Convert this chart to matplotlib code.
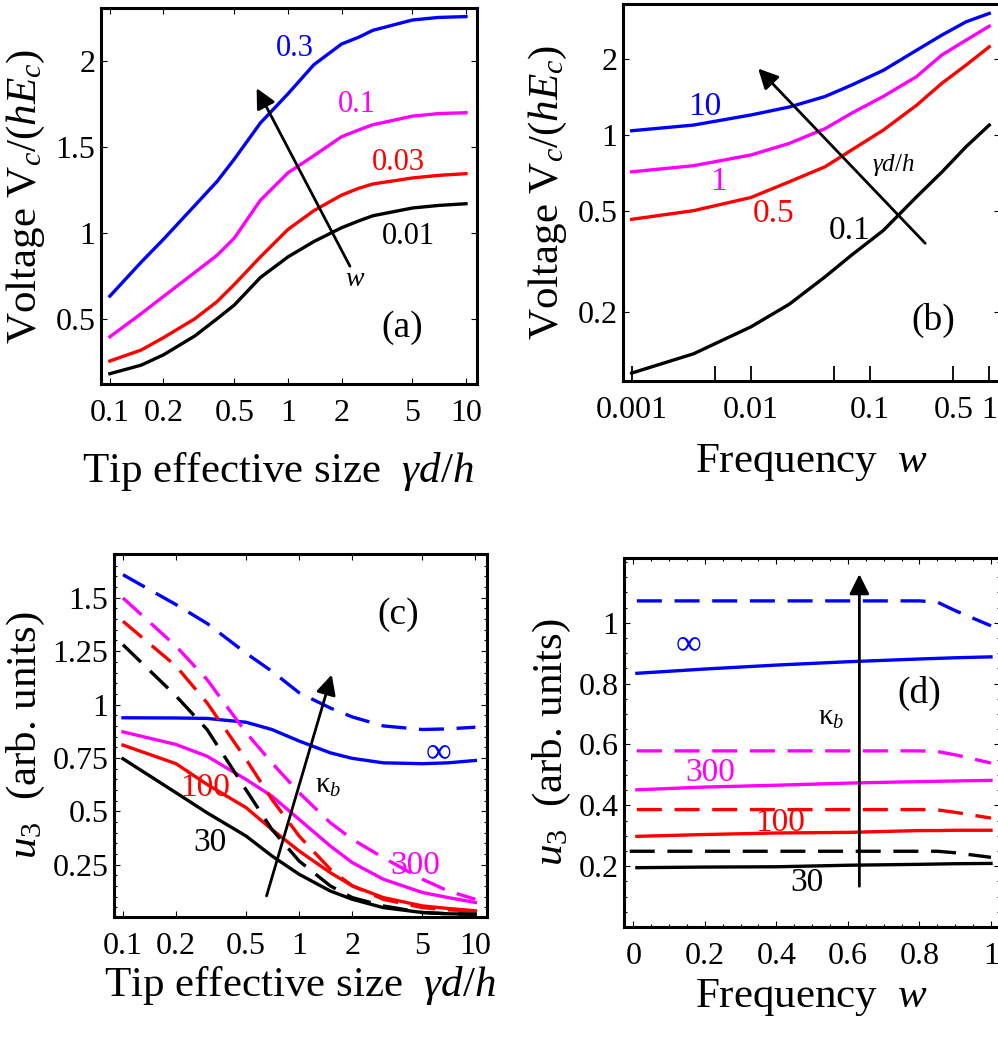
import numpy as np
import matplotlib
matplotlib.use('Agg')
import matplotlib.pyplot as plt
import matplotlib.ticker as tkr

plt.rcParams['font.family'] = ['Liberation Serif', 'DejaVu Serif']
plt.rcParams['mathtext.fontset'] = 'custom'
plt.rcParams['mathtext.rm'] = 'Liberation Serif'
plt.rcParams['mathtext.it'] = 'Liberation Serif:italic'

BLUE, MAG, RED, BLK = '#0000ff', '#ff00ff', '#ff0000', '#000000'

# (a) voltage vs tip size, curves for w = 0.01, 0.03, 0.1, 0.3
a_x = [0.1, 0.15, 0.2, 0.3, 0.4, 0.5, 0.7, 1, 1.4, 2, 2.5, 3, 5, 7, 10]
a_w03 = [0.632, 0.83, 0.963, 1.16, 1.30, 1.43, 1.64, 1.81, 1.98, 2.10, 2.14, 2.18, 2.24, 2.255, 2.26]
a_w01 = [0.395, 0.53, 0.63, 0.77, 0.87, 0.97, 1.19, 1.35, 1.45, 1.56, 1.60, 1.63, 1.68, 1.695, 1.70]
a_w003 = [0.254, 0.318, 0.39, 0.50, 0.60, 0.70, 0.86, 1.02, 1.13, 1.22, 1.26, 1.285, 1.32, 1.335, 1.345]
a_w001 = [0.18, 0.23, 0.29, 0.40, 0.50, 0.58, 0.74, 0.86, 0.95, 1.03, 1.07, 1.10, 1.145, 1.16, 1.17]

# (b) voltage vs frequency, curves for gamma d/h = 0.1, 0.5, 1, 10
b_x = [0.001, 0.0033, 0.01, 0.021, 0.042, 0.07, 0.129, 0.245, 0.4, 0.64, 1.0]
b_g10 = [1.04, 1.095, 1.2, 1.29, 1.42, 1.575, 1.8, 2.16, 2.48, 2.8, 3.02]
b_g1 = [0.716, 0.757, 0.834, 0.927, 1.06, 1.22, 1.42, 1.70, 2.07, 2.37, 2.69]
b_g05 = [0.465, 0.503, 0.567, 0.654, 0.75, 0.873, 1.046, 1.31, 1.6, 1.89, 2.23]
b_g01 = [0.115, 0.137, 0.175, 0.215, 0.276, 0.336, 0.42, 0.57, 0.714, 0.9, 1.095]

# (c) u3 vs tip size, solid and dashed for kappa_b = 30, 100, 300, inf
c_x = [0.1, 0.2, 0.3, 0.5, 0.7, 1, 1.5, 2, 3, 5, 7, 10]
c_inf_d = [1.608, 1.468, 1.38, 1.24, 1.156, 1.055, 0.984, 0.942, 0.90, 0.883, 0.886, 0.894]
c_inf_s = [0.938, 0.937, 0.935, 0.917, 0.883, 0.829, 0.774, 0.748, 0.727, 0.723, 0.727, 0.738]
c_300_d = [1.499, 1.273, 1.117, 0.868, 0.727, 0.587, 0.447, 0.369, 0.283, 0.182, 0.127, 0.088]
c_300_s = [0.872, 0.813, 0.758, 0.649, 0.571, 0.462, 0.338, 0.26, 0.182, 0.12, 0.096, 0.073]
c_100_d = [1.39, 1.18, 1.008, 0.743, 0.556, 0.384, 0.229, 0.151, 0.088, 0.049, 0.038, 0.034]
c_100_s = [0.81, 0.723, 0.626, 0.517, 0.415, 0.314, 0.213, 0.151, 0.096, 0.057, 0.045, 0.034]
c_30_d = [1.28, 1.04, 0.883, 0.60, 0.415, 0.267, 0.151, 0.096, 0.057, 0.026, 0.02, 0.018]
c_30_s = [0.746, 0.587, 0.493, 0.384, 0.291, 0.205, 0.127, 0.088, 0.049, 0.026, 0.02, 0.018]

# (d) u3 vs frequency
d_x = [0.01, 0.2, 0.4, 0.6, 0.8, 0.85, 0.9, 1.0]
d_inf_d = [1.072, 1.072, 1.072, 1.072, 1.072, 1.068, 1.04, 0.99]
d_inf_s = [0.834, 0.848, 0.861, 0.872, 0.881, 0.883, 0.885, 0.888]
d_300_d = [0.579, 0.579, 0.579, 0.579, 0.579, 0.577, 0.566, 0.539]
d_300_s = [0.451, 0.46, 0.466, 0.473, 0.478, 0.479, 0.48, 0.482]
d_100_d = [0.386, 0.386, 0.386, 0.386, 0.386, 0.385, 0.377, 0.358]
d_100_s = [0.298, 0.304, 0.309, 0.311, 0.317, 0.317, 0.318, 0.318]
d_30_d_x = [-0.01, 0.2, 0.4, 0.6, 0.8, 0.85, 0.9, 1.0]
d_30_d = [0.249, 0.249, 0.249, 0.249, 0.249, 0.249, 0.244, 0.229]
d_30_s = [0.195, 0.197, 0.198, 0.203, 0.206, 0.207, 0.208, 0.209]

W, H = 998, 1037
fig = plt.figure(figsize=(W / 100, H / 100), dpi=100)


def box(l, r, t, b):
    return fig.add_axes([l / W, 1 - b / H, (r - l) / W, (b - t) / H])


def style(ax):
    for s in ax.spines.values():
        s.set_linewidth(2.2)
    ax.tick_params(which='both', direction='in', top=True, right=True,
                   labelsize=23, width=0.8)
    ax.tick_params(which='major', length=4)
    ax.tick_params(which='minor', length=2.5)


LW = 2.4
DASH = (7.5, 3.8)
LAB = 22
arrow = dict(arrowstyle='-|>', lw=2, color='k', mutation_scale=30, shrinkA=0, shrinkB=0)

# ---------- (a)
ax = box(101, 477, 8, 384)
style(ax)
ax.set_xscale('log')
ax.plot(a_x, a_w03, color=BLUE, lw=LW)
ax.plot(a_x, a_w01, color=MAG, lw=LW)
ax.plot(a_x, a_w003, color=RED, lw=LW)
ax.plot(a_x, a_w001, color=BLK, lw=LW)
ax.set_xlim(10 ** -1.05, 10 ** 1.062)
ax.set_ylim(0.12, 2.31)
ax.xaxis.set_major_locator(tkr.FixedLocator([0.1, 0.2, 0.5, 1, 2, 5, 10]))
ax.xaxis.set_major_formatter(tkr.FixedFormatter(['0.1', '0.2', '0.5', '1', '2', '5', '10']))
ax.xaxis.set_minor_locator(tkr.NullLocator())
ax.set_yticks([0.5, 1, 1.5, 2], ['0.5', '1', '1.5', '2'])
ax.tick_params(axis='x', pad=11)
ax.tick_params(axis='y', pad=4)
ax.set_xlabel(r'Tip effective size  $\gamma d/h$', fontsize=31)
ax.xaxis.set_label_coords(0.47, -0.175)
ax.set_ylabel(r'Voltage V$_c/(hE_c)$', fontsize=31, labelpad=6)
ax.text(1.09, 2.075, '0.3', color=BLUE, fontsize=LAB, ha='center', va='center')
ax.text(2.43, 1.746, '0.1', color=MAG, fontsize=LAB, ha='center', va='center')
ax.text(4.17, 1.41, '0.03', color=RED, fontsize=LAB, ha='center', va='center')
ax.text(4.74, 0.98, '0.01', color=BLK, fontsize=LAB, ha='center', va='center')
ax.text(2.38, 0.73, '$w$', fontsize=20, ha='center', va='center')
ax.text(4.4, 0.45, '(a)', fontsize=27, ha='center', va='center')
ax.annotate('', xy=(0.667, 1.843), xytext=(2.23, 0.806), arrowprops=arrow)

# ---------- (b)
ax = box(623, 1000, 4, 381)
style(ax)
ax.set_xscale('log')
ax.set_yscale('log')
ax.plot(b_x, b_g10, color=BLUE, lw=LW)
ax.plot(b_x, b_g1, color=MAG, lw=LW)
ax.plot(b_x, b_g05, color=RED, lw=LW)
ax.plot(b_x, b_g01, color=BLK, lw=LW)
ax.set_xlim(10 ** -3.073, 10 ** 0.09)
ax.set_ylim(0.107, 3.29)
ax.xaxis.set_major_locator(tkr.FixedLocator([0.001, 0.005, 0.01, 0.05, 0.1, 0.5, 1]))
ax.xaxis.set_major_formatter(tkr.FixedFormatter(['0.001', '', '0.01', '', '0.1', '0.5', '1']))
ax.xaxis.set_minor_locator(tkr.LogLocator(subs=(2, 3, 4, 6, 7, 8, 9)))
ax.xaxis.set_minor_formatter(tkr.NullFormatter())
ax.tick_params(axis='x', which='major', length=11, width=1.3, top=False, pad=11)
ax.yaxis.set_major_locator(tkr.FixedLocator([0.2, 0.5, 1, 2]))
ax.yaxis.set_major_formatter(tkr.FixedFormatter(['0.2', '0.5', '1', '2']))
ax.yaxis.set_minor_locator(tkr.NullLocator())
ax.tick_params(axis='y', pad=4)
ax.set_xlabel(r'Frequency  $w$', fontsize=31, labelpad=12)
ax.set_ylabel(r'Voltage V$_c/(hE_c)$', fontsize=31, labelpad=6)
ax.text(0.0041, 1.29, '10', color=BLUE, fontsize=24, ha='center', va='center')
ax.text(0.0053, 0.655, '1', color=MAG, fontsize=24, ha='center', va='center')
ax.text(0.0155, 0.49, '0.5', color=RED, fontsize=24, ha='center', va='center')
ax.text(0.0676, 0.42, '0.1', color=BLK, fontsize=24, ha='center', va='center')
ax.text(0.157, 0.76, r'$\gamma d/h$', fontsize=18, ha='center', va='center')
ax.text(0.34, 0.186, '(b)', fontsize=27, ha='center', va='center')
ax.annotate('', xy=(0.0115, 1.83), xytext=(0.29, 0.374), arrowprops=arrow)

# ---------- (c)
ax = box(114, 487, 554, 917)
style(ax)
ax.set_xscale('log')
ax.plot(c_x, c_inf_d, color=BLUE, lw=LW, dashes=DASH)
ax.plot(c_x, c_inf_s, color=BLUE, lw=LW)
ax.plot(c_x, c_300_d, color=MAG, lw=LW, dashes=DASH)
ax.plot(c_x, c_300_s, color=MAG, lw=LW)
ax.plot(c_x, c_100_d, color=RED, lw=LW, dashes=DASH)
ax.plot(c_x, c_100_s, color=RED, lw=LW)
ax.plot(c_x, c_30_d, color=BLK, lw=LW, dashes=DASH)
ax.plot(c_x, c_30_s, color=BLK, lw=LW)
ax.set_xlim(10 ** -1.051, 10 ** 1.066)
ax.set_ylim(0.005, 1.705)
ax.xaxis.set_major_locator(tkr.FixedLocator([0.1, 0.2, 0.5, 1, 2, 5, 10]))
ax.xaxis.set_major_formatter(tkr.FixedFormatter(['0.1', '0.2', '0.5', '1', '2', '5', '10']))
ax.xaxis.set_minor_locator(tkr.NullLocator())
ax.set_yticks([0.25, 0.5, 0.75, 1, 1.25, 1.5], ['0.25', '0.5', '0.75', '1', '1.25', '1.5'])
ax.yaxis.set_minor_locator(tkr.MultipleLocator(0.05))
ax.tick_params(axis='x', pad=11)
ax.tick_params(axis='y', pad=4)
ax.set_xlabel(r'Tip effective size  $\gamma d/h$', fontsize=31, labelpad=2)
ax.set_ylabel(r'$u_3$  (arb. units)', fontsize=31, labelpad=4)
ax.text(3.66, 1.42, '(c)', fontsize=27, ha='center', va='center')
ax.text(6.17, 0.774, '∞', color=BLUE, fontsize=26, ha='center', va='center')
ax.text(1.47, 0.618, 'κ$_b$', fontsize=21, ha='center', va='center')
ax.text(0.291, 0.61, '100', color=RED, fontsize=24, ha='center', va='center')
ax.text(0.311, 0.353, '30', color=BLK, fontsize=24, ha='center', va='center')
ax.text(4.56, 0.244, '300', color=MAG, fontsize=24, ha='center', va='center')
ax.annotate('', xy=(1.53, 1.14), xytext=(0.653, 0.104), arrowprops=arrow)

# ---------- (d)
ax = box(624, 1000, 558, 927)
style(ax)
ax.plot(d_x, d_inf_d, color=BLUE, lw=LW, dashes=DASH)
ax.plot(d_x, d_inf_s, color=BLUE, lw=LW)
ax.plot(d_x, d_300_d, color=MAG, lw=LW, dashes=DASH)
ax.plot(d_x, d_300_s, color=MAG, lw=LW)
ax.plot(d_x, d_100_d, color=RED, lw=LW, dashes=DASH)
ax.plot(d_x, d_100_s, color=RED, lw=LW)
ax.plot(d_30_d_x, d_30_d, color=BLK, lw=LW, dashes=DASH)
ax.plot(d_x, d_30_s, color=BLK, lw=LW)
ax.set_xlim(-0.026, 1.0252)
ax.set_ylim(0.0, 1.213)
ax.set_xticks([0, 0.2, 0.4, 0.6, 0.8, 1], ['0', '0.2', '0.4', '0.6', '0.8', '1'])
ax.set_yticks([0.2, 0.4, 0.6, 0.8, 1], ['0.2', '0.4', '0.6', '0.8', '1'])
ax.xaxis.set_minor_locator(tkr.MultipleLocator(0.05))
ax.yaxis.set_minor_locator(tkr.MultipleLocator(0.05))
ax.tick_params(axis='x', pad=11)
ax.tick_params(axis='y', pad=4)
ax.set_xlabel(r'Frequency  $w$', fontsize=31, labelpad=4)
ax.set_ylabel(r'$u_3$  (arb. units)', fontsize=31, labelpad=4)
ax.text(0.154, 0.927, '∞', color=BLUE, fontsize=26, ha='center', va='center')
ax.text(0.80, 0.768, '(d)', fontsize=27, ha='center', va='center')
ax.text(0.553, 0.686, 'κ$_b$', fontsize=21, ha='center', va='center')
ax.text(0.216, 0.506, '300', color=MAG, fontsize=24, ha='center', va='center')
ax.text(0.41, 0.344, '100', color=RED, fontsize=24, ha='center', va='center')
ax.text(0.485, 0.145, '30', color=BLK, fontsize=24, ha='center', va='center')
ax.annotate('', xy=(0.632, 1.16), xytext=(0.632, 0.134), arrowprops=arrow)

fig.savefig('out.png', dpi=100)
